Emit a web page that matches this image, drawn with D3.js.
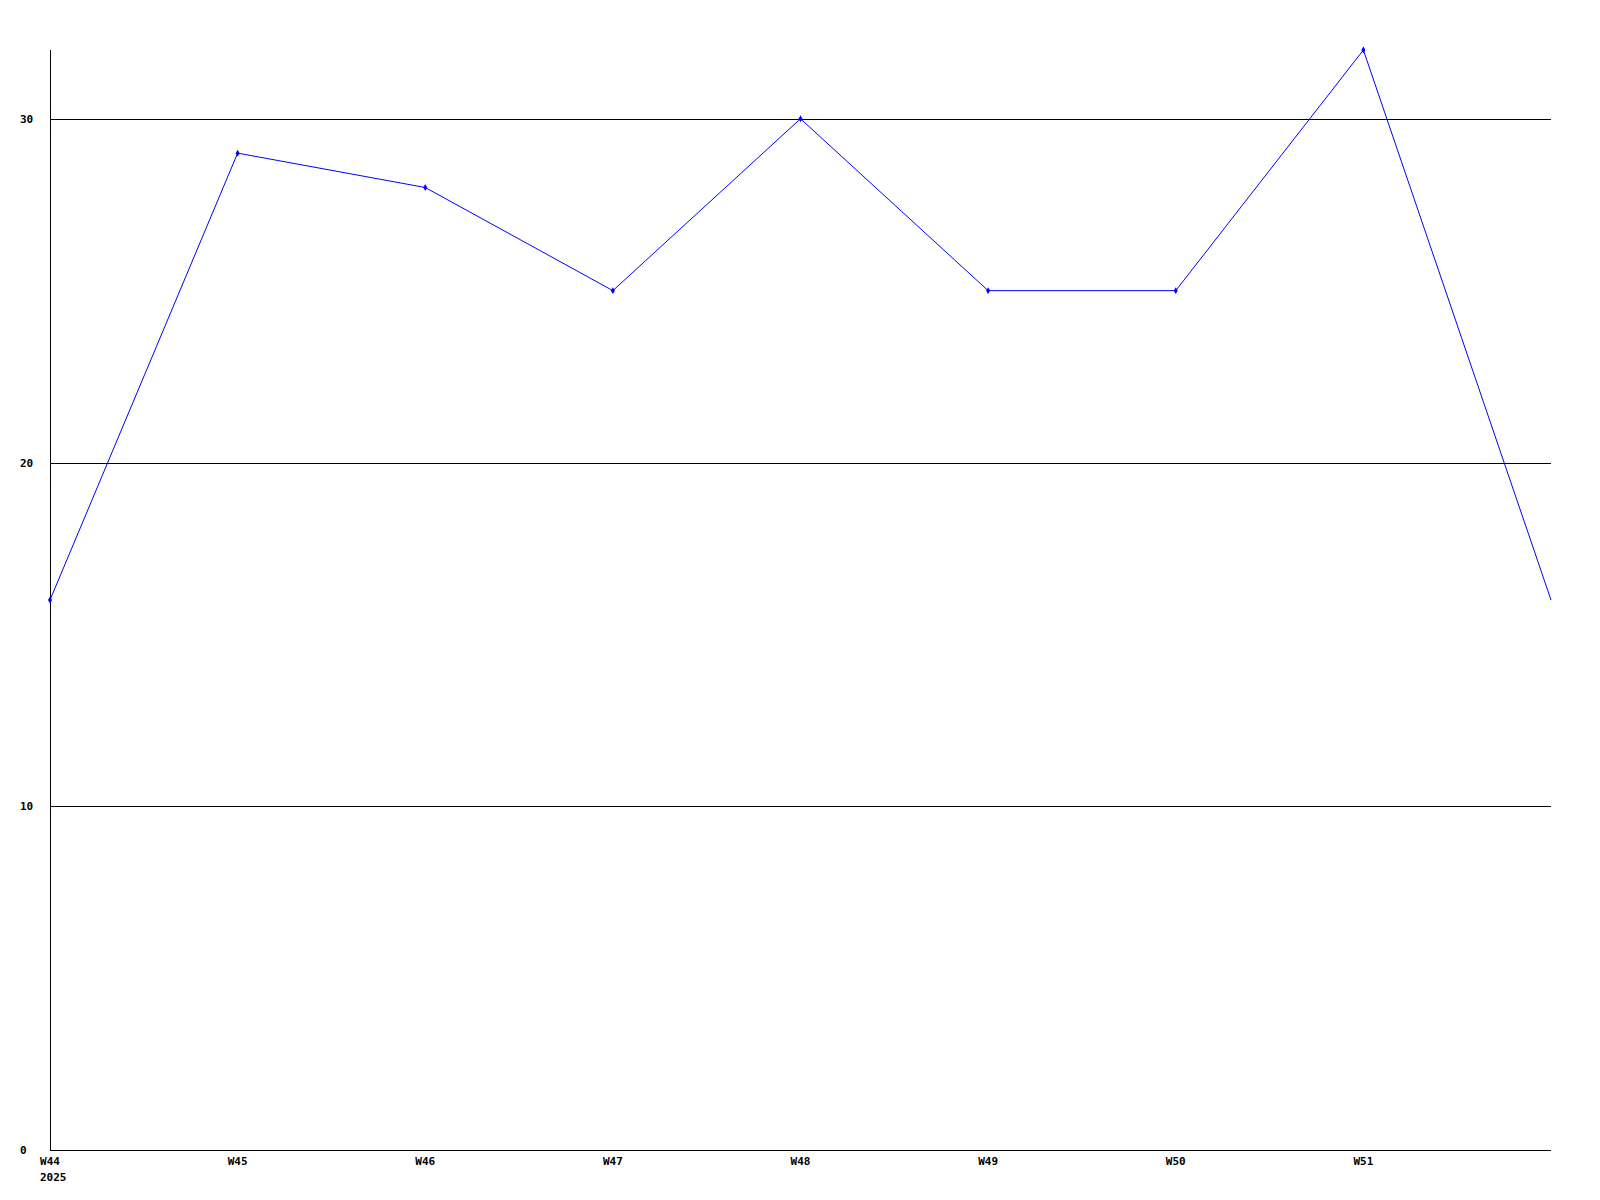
<!DOCTYPE html>
<html><head><meta charset="utf-8">
<script src="https://cdn.jsdelivr.net/npm/d3@7"></script>
<style>body{margin:0;background:#fff}svg{display:block}text{font-family:"DejaVu Sans Mono",monospace;font-weight:bold;font-size:11px;fill:#000}</style>
</head><body><svg id="c" width="1600" height="1200"></svg>
<script>
const weeks = ["W44","W45","W46","W47","W48","W49","W50","W51","W52"];
const values = [16,29,28,25,30,25,25,32,16];
const yTicks = [0,10,20,30];
const yearLabel = "2025";

(function(){
const svg = d3.select("#c");
const pl = 50, pr = 1551, pt = 50, pb = 1150;
const x = d3.scalePoint().domain(weeks).range([pl, pr]);
const y = d3.scaleLinear().domain([0, 32]).range([pb, pt]);

// gridlines
svg.append("g").selectAll("line").data(yTicks.filter(d => d > 0)).join("line")
  .attr("x1", pl).attr("x2", pr)
  .attr("y1", d => Math.round(y(d)) + 0.5).attr("y2", d => Math.round(y(d)) + 0.5)
  .attr("stroke", "#000").attr("stroke-width", 1).attr("shape-rendering","crispEdges");

// axes lines
svg.append("line").attr("x1", pl+0.5).attr("x2", pl+0.5).attr("y1", pt).attr("y2", pb)
  .attr("stroke","#000").attr("shape-rendering","crispEdges");
svg.append("line").attr("x1", pl).attr("x2", pr).attr("y1", pb+0.5).attr("y2", pb+0.5)
  .attr("stroke","#000").attr("shape-rendering","crispEdges");

// y labels (left-aligned)
svg.append("g").selectAll("text").data(yTicks).join("text")
  .attr("x", 20).attr("y", d => y(d) + 4).attr("text-anchor","start").text(d => d);

// x labels
const shown = weeks.slice(0, weeks.length - 1);
svg.append("g").selectAll("text").data(shown).join("text")
  .attr("x", d => x(d)).attr("y", pb + 15).attr("text-anchor","middle").text(d => d);
svg.append("text").attr("x", 40).attr("y", pb + 31).text(yearLabel);

// line
const data = weeks.map((w,i) => ({w, v: values[i]}));
svg.append("path").datum(data)
  .attr("d", d3.line().x(d => x(d.w)).y(d => y(d.v)))
  .attr("fill","none").attr("stroke","#0000ff").attr("stroke-width",1);

// markers
svg.append("g").selectAll("path").data(data.slice(0, data.length - 1)).join("path")
  .attr("transform", d => `translate(${x(d.w)},${y(d.v)})`)
  .attr("d", d3.symbol().type(d3.symbolDiamond).size(14))
  .attr("fill","#0000ff");
})();
</script></body></html>
